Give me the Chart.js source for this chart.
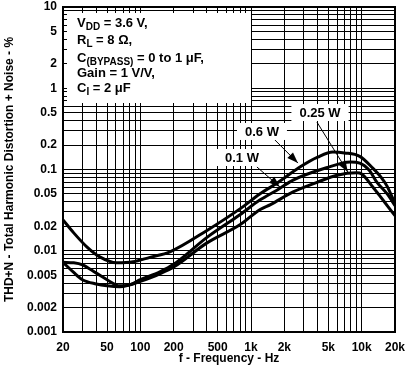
<!DOCTYPE html>
<html>
<head>
<meta charset="utf-8">
<script src="https://cdn.jsdelivr.net/npm/chart.js@4.4.1/dist/chart.umd.min.js"></script>
<style>
  html, body { margin: 0; padding: 0; background: #fff; }
  #wrap { width: 408px; height: 375px; position: relative; }
</style>
</head>
<body>
<div id="wrap"><canvas id="thdChart"></canvas></div>
<script>
// THD+N (%) vs frequency (Hz)
var freq06 = [20, 25, 33, 43, 61, 86, 122, 185, 400, 800, 1200, 1750, 2700, 4000, 5500, 7000, 9600, 12500, 15000, 17000, 20000];
var thd06 = [0.024, 0.0166, 0.0111, 0.0084, 0.0071, 0.0073, 0.0083, 0.0097, 0.0178, 0.033, 0.05, 0.069, 0.105, 0.142, 0.164, 0.16, 0.145, 0.105, 0.08, 0.062, 0.038];

var freq01 = [20, 25, 30, 40, 50, 65, 80, 100, 150, 200, 400, 800, 1200, 1800, 2400, 4800, 7900, 9600, 11700, 13700, 17000, 20000];
var thd01 = [0.0072, 0.0071, 0.0067, 0.0053, 0.0044, 0.0037, 0.0038, 0.0044, 0.0055, 0.0068, 0.0146, 0.028, 0.042, 0.058, 0.074, 0.105, 0.124, 0.12, 0.098, 0.07, 0.05, 0.036];

var freq025 = [20, 25, 30, 40, 50, 65, 80, 100, 150, 200, 400, 800, 1200, 1500, 2400, 4000, 6000, 9000, 10000, 12600, 15000, 17000, 20000];
var thd025 = [0.0072, 0.0054, 0.0044, 0.0039, 0.0037, 0.0036, 0.0038, 0.0042, 0.0052, 0.0063, 0.0125, 0.021, 0.032, 0.037, 0.053, 0.07, 0.085, 0.091, 0.088, 0.061, 0.045, 0.036, 0.027];

var xTickLabels = [20, 50, 100, 200, 500, 1000, 2000, 5000, 10000, 20000];
var yTickLabels = [10, 5, 2, 1, 0.5, 0.2, 0.1, 0.05, 0.02, 0.01, 0.005, 0.002, 0.001];

// curve labels: text position and arrow (start -> tip) in data units
var noteText = ['0.25 W', '0.6 W', '0.1 W'];
var noteAt = [[4200, 0.51], [1256, 0.298], [828, 0.1425]];
var arrowFrom = [[3940, 0.384], [1645, 0.2307], [1131, 0.1073]];
var arrowTo = [[7500, 0.093], [2654, 0.12], [1826, 0.0609]];

var FONT = "'Liberation Sans', Arial, Helvetica, sans-serif";

function pts(xs, ys) {
  return xs.map(function (x, i) { return { x: x, y: ys[i] }; });
}

// every 1..9 step of each decade, so each one gets a grid line
function logSteps(min, max) {
  var out = [];
  for (var e = Math.floor(Math.log10(min)); e <= Math.ceil(Math.log10(max)); e++) {
    for (var m = 1; m <= 9; m++) {
      var v = Number((m * Math.pow(10, e)).toPrecision(6));
      if (v >= min * 0.9999 && v <= max * 1.0001) out.push(v);
    }
  }
  return out;
}

function hasLabel(list, v) {
  return list.some(function (l) { return Math.abs(l - v) / l < 1e-6; });
}

function lineSet(label, xs, ys) {
  return {
    label: label,
    data: pts(xs, ys),
    borderColor: '#000',
    borderWidth: 3,
    pointRadius: 0,
    fill: false,
    cubicInterpolationMode: 'monotone'
  };
}

// text with a subscript part: [[text, isSub], ...]
function richText(ctx, parts, x, y) {
  parts.forEach(function (p) {
    ctx.font = p[1] ? 'bold 10px ' + FONT : 'bold 13px ' + FONT;
    ctx.fillText(p[0], x, p[1] ? y + 3 : y);
    x += ctx.measureText(p[0]).width;
  });
}

var notesPlugin = {
  id: 'notes',
  beforeDatasetsDraw: function (chart) {
    var ctx = chart.ctx, a = chart.chartArea, xs = chart.scales.x, ys = chart.scales.y;
    ctx.save();
    // conditions box
    ctx.fillStyle = '#fff';
    ctx.fillRect(a.left + 4, a.top + 6, 184, 90);
    ctx.fillStyle = '#000';
    ctx.textAlign = 'left';
    ctx.textBaseline = 'alphabetic';
    var tx = a.left + 14;
    richText(ctx, [['V', 0], ['DD', 1], [' = 3.6 V,', 0]], tx, a.top + 20);
    richText(ctx, [['R', 0], ['L', 1], [' = 8 \u03A9,', 0]], tx, a.top + 37);
    richText(ctx, [['C', 0], ['(BYPASS)', 1], [' = 0 to 1 \u03BCF,', 0]], tx, a.top + 55);
    richText(ctx, [['Gain = 1 V/V,', 0]], tx, a.top + 70);
    richText(ctx, [['C', 0], ['I', 1], [' = 2 \u03BCF', 0]], tx, a.top + 85);

    // curve label boxes
    ctx.font = 'bold 13px ' + FONT;
    ctx.textAlign = 'center';
    ctx.textBaseline = 'middle';
    noteText.forEach(function (t, i) {
      var px = xs.getPixelForValue(noteAt[i][0]);
      var py = ys.getPixelForValue(noteAt[i][1]);
      var w = ctx.measureText(t).width + 16;
      ctx.fillStyle = '#fff';
      ctx.fillRect(px - w / 2, py - 8, w, 17);
      ctx.fillStyle = '#000';
      ctx.fillText(t, px, py + 1);
    });
    ctx.restore();
  },
  afterDatasetsDraw: function (chart) {
    var ctx = chart.ctx, xs = chart.scales.x, ys = chart.scales.y;
    ctx.save();
    ctx.strokeStyle = '#000';
    ctx.fillStyle = '#000';
    ctx.lineWidth = 1;
    arrowFrom.forEach(function (f, i) {
      var x1 = xs.getPixelForValue(f[0]), y1 = ys.getPixelForValue(f[1]);
      var x2 = xs.getPixelForValue(arrowTo[i][0]), y2 = ys.getPixelForValue(arrowTo[i][1]);
      var ang = Math.atan2(y2 - y1, x2 - x1);
      ctx.beginPath();
      ctx.moveTo(x1, y1);
      ctx.lineTo(x2, y2);
      ctx.stroke();
      ctx.beginPath();
      ctx.moveTo(x2, y2);
      ctx.lineTo(x2 - 11 * Math.cos(ang) + 4 * Math.sin(ang), y2 - 11 * Math.sin(ang) - 4 * Math.cos(ang));
      ctx.lineTo(x2 - 11 * Math.cos(ang) - 4 * Math.sin(ang), y2 - 11 * Math.sin(ang) + 4 * Math.cos(ang));
      ctx.closePath();
      ctx.fill();
    });
    ctx.restore();
  },
  afterDraw: function (chart) {
    var ctx = chart.ctx, a = chart.chartArea;
    ctx.save();
    ctx.strokeStyle = '#000';
    ctx.lineWidth = 2;
    ctx.strokeRect(a.left, a.top, a.right - a.left, a.bottom - a.top);
    ctx.restore();
  }
};

var ctx = document.getElementById('thdChart').getContext('2d');

var chart = new Chart(ctx, {
  type: 'line',
  data: {
    datasets: [
      lineSet('0.6 W', freq06, thd06),
      lineSet('0.1 W', freq01, thd01),
      lineSet('0.25 W', freq025, thd025)
    ]
  },
  options: {
    responsive: true,
    maintainAspectRatio: false,
    animation: false,
    layout: { padding: { top: 7, right: 13, left: 0, bottom: 0 } },
    plugins: { legend: { display: false }, tooltip: { enabled: false } },
    scales: {
      x: {
        type: 'logarithmic',
        min: 20,
        max: 20000,
        afterBuildTicks: function (scale) {
          scale.ticks = logSteps(20, 20000).map(function (v) { return { value: v }; });
        },
        afterFit: function (scale) {
          scale.height = 43;
          scale.paddingLeft = 0;
          scale.paddingRight = 0;
        },
        grid: { color: '#000', lineWidth: 1, drawTicks: false },
        border: { display: false },
        ticks: {
          autoSkip: false,
          maxRotation: 0,
          padding: 8,
          color: '#000',
          font: { family: FONT, size: 12, weight: 'bold' },
          callback: function (v) {
            if (!hasLabel(xTickLabels, v)) return '';
            return v >= 1000 ? (v / 1000) + 'k' : String(v);
          }
        },
        title: {
          display: true,
          text: 'f - Frequency - Hz',
          color: '#000',
          font: { family: FONT, size: 12, weight: 'bold' },
          padding: { top: 0, bottom: 9 }
        }
      },
      y: {
        type: 'logarithmic',
        min: 0.001,
        max: 10,
        afterBuildTicks: function (scale) {
          scale.ticks = logSteps(0.001, 10).map(function (v) { return { value: v }; });
        },
        afterFit: function (scale) {
          scale.width = 63;
          scale.paddingTop = 0;
          scale.paddingBottom = 0;
        },
        grid: { color: '#000', lineWidth: 1, drawTicks: false },
        border: { display: false },
        ticks: {
          autoSkip: false,
          padding: 6,
          color: '#000',
          font: { family: FONT, size: 12, weight: 'bold' },
          callback: function (v) {
            return hasLabel(yTickLabels, v) ? String(Number(v.toPrecision(6))) : '';
          }
        },
        title: {
          display: true,
          text: 'THD+N - Total Harmonic Distortion + Noise - %',
          color: '#000',
          font: { family: FONT, size: 12, weight: 'bold' },
          padding: { top: 2, bottom: 0 }
        }
      }
    }
  },
  plugins: [notesPlugin]
});
</script>
</body>
</html>
